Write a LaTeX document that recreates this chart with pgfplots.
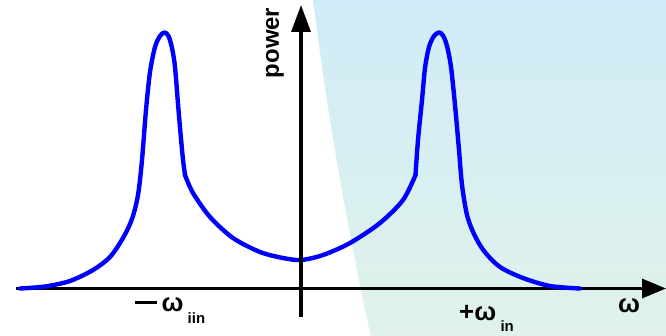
\documentclass[border=0pt]{standalone}
\usepackage{pgfplots}
\pgfplotsset{compat=1.18}
\usepackage{fontspec}
\setmainfont{Liberation Sans}
\usetikzlibrary{arrows.meta}
\definecolor{shtop}{RGB}{208,236,248}
\definecolor{shbot}{RGB}{224,242,234}
\begin{document}
\begin{tikzpicture}
\begin{axis}[
  scale only axis, width=666bp, height=336bp,
  xmin=0, xmax=666, ymin=0, ymax=336, y dir=reverse,
  hide axis, clip=false,
]
% shaded region
\addplot[draw=none, top color=shtop, bottom color=shbot] coordinates {
 (313,0) (318.2,40) (323.9,80) (330,120) (336.6,160) (343.6,200) (351,240) (358.9,280) (367.2,320) (371,336)
 (666,336) (666,0)
} -- cycle;
% x axis
\draw[line width=3.3bp, -{Triangle[length=24bp,width=19bp]}] (axis cs:16,288.5) -- (axis cs:666,288.5);
% curve: left tail + left peak to kink
\addplot[blue, line width=4.4bp, smooth, line cap=round, line join=round] coordinates {
 (20,288.5) (45,286.5) (70,281) (93,270) (110,257) (123,238) (132,219) (138,195)
 (142,160) (146,110) (150,72) (155,47) (160,36) (164.5,32.5) (168.5,36)
 (172,48) (175,67) (178.5,110) (182.5,155) (185,175)
};
\addplot[blue, line width=4.4bp, smooth, line cap=round, line join=round] coordinates {
 (185,175) (193,193) (210,217) (233,238) (260,252) (283,258) (301,260)
 (323,255) (350,243) (380,223) (403,200) (415.5,175)
};
\addplot[blue, line width=4.4bp, smooth, line cap=round, line join=round] coordinates {
 (415.5,175) (418,140) (422,100) (425,68) (429,47) (434,36) (439,32.5) (443,35.5)
 (447,46) (451,67) (455,105) (459,150) (462,185)
 (467,215) (474,234) (484,251) (500,267) (523,278) (550,286) (580,288.5)
};
% y axis
\draw[line width=3.3bp, -{Triangle[length=27bp,width=19bp]}] (axis cs:301,317) -- (axis cs:301,5);
% labels
\node[rotate=90, font=\fontsize{24}{28}\selectfont\bfseries, inner sep=0pt] at (axis cs:275,43) {power};
\node[font=\fontsize{26}{28}\selectfont\bfseries, inner sep=0pt, anchor=base] at (axis cs:629,312) {ω};
\node[font=\fontsize{26}{28}\selectfont\bfseries, inner sep=0pt, anchor=base west] at (axis cs:135,311) {\rule[0.26em]{0.85em}{3bp}\,ω\,\raisebox{-0.5em}{\fontsize{15}{16}\selectfont iin}};
\node[font=\fontsize{26}{28}\selectfont\bfseries, inner sep=0pt, anchor=base west] at (axis cs:459,320) {+ω\,\raisebox{-0.45em}{\fontsize{15}{16}\selectfont in}};
\coordinate (bl) at (axis cs:0,336);
\coordinate (tr) at (axis cs:666,0);
\end{axis}
\pgfresetboundingbox
\path[use as bounding box] (bl) rectangle (tr);
\end{tikzpicture}
\end{document}
